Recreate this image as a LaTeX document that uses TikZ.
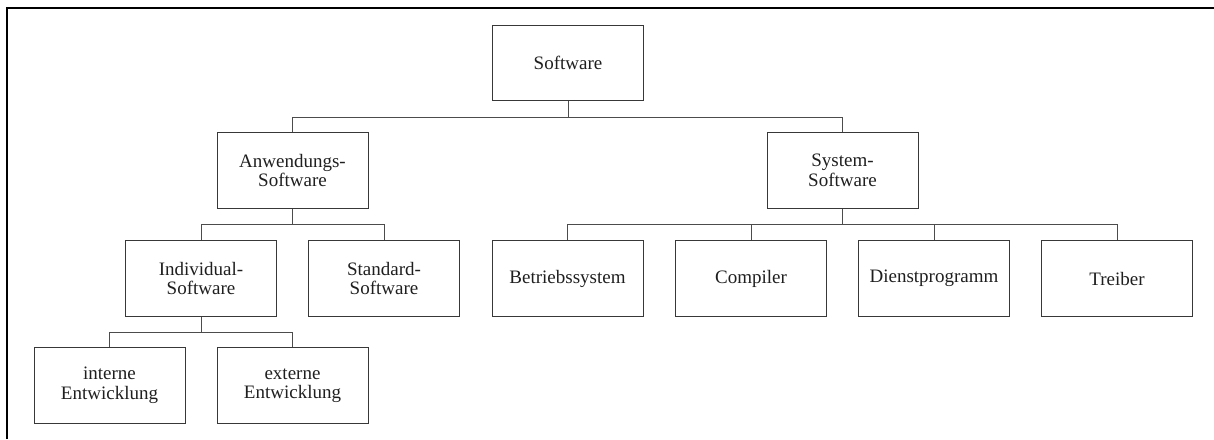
\documentclass[tikz,border=0pt]{standalone}
\usepackage{fontspec}
\setmainfont{Liberation Serif}
\begin{document}
\begin{tikzpicture}[x=1pt,y=-1pt,
  box/.style={draw=black!78, line width=0.8pt, minimum width=151pt, minimum height=75.5pt,
    inner sep=0pt, align=center, text=black!88, font=\fontsize{19}{19.5}\selectfont},
  conn/.style={draw=black!70, line width=0.8pt},
  frame/.style={draw=black, line width=2pt}]
\useasboundingbox (0,0) rectangle (1214,439);
\draw[frame] (7,439) -- (7,7.5) -- (1214,7.5);
\node[box] (sw)  at (568,63)     {Software};
\node[box] (anw) at (292.5,170.5) {Anwendungs-\\Software};
\node[box] (sys) at (842.5,170.5) {System-\\Software};
\node[box] (ind) at (201,278.5)   {Individual-\\Software};
\node[box] (std) at (384,278.5)   {Standard-\\Software};
\node[box] (bs)  at (567.5,278.5) {Betriebssystem};
\node[box] (cmp) at (751,278.5)   {Compiler};
\node[box] (dp)  at (934,278.5)   {Dienstprogramm};
\node[box] (tr)  at (1117,278.5)  {Treiber};
\node[box] (int) at (109.5,385.5) {interne\\Entwicklung};
\node[box] (ext) at (292.5,385.5) {externe\\Entwicklung};
\draw[conn] (sw.south) -- ++(0,16.3) -| (anw.north);
\draw[conn] (sw.south) -- ++(0,16.3) -| (sys.north);
\draw[conn] (anw.south) -- ++(0,16) -| (ind.north);
\draw[conn] (anw.south) -- ++(0,16) -| (std.north);
\draw[conn] (sys.south) -- ++(0,16) -| (bs.north);
\draw[conn] (sys.south) -- ++(0,16) -| (cmp.north);
\draw[conn] (sys.south) -- ++(0,16) -| (dp.north);
\draw[conn] (sys.south) -- ++(0,16) -| (tr.north);
\draw[conn] (ind.south) -- ++(0,16) -| (int.north);
\draw[conn] (ind.south) -- ++(0,16) -| (ext.north);
\end{tikzpicture}
\end{document}
